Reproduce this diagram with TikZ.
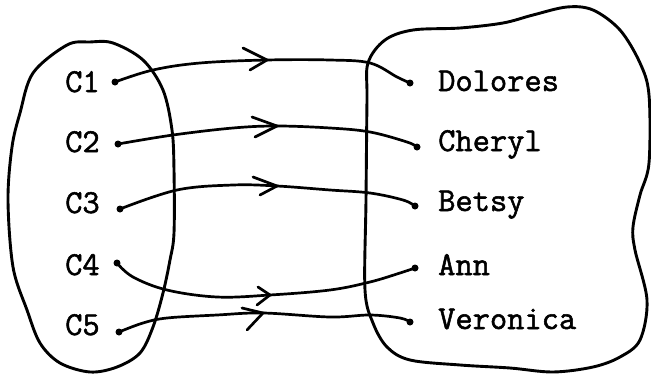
\documentclass[tikz,border=0pt]{standalone}
\usepackage{fontspec}
\setmonofont{Latin Modern Mono}[FakeBold=1.6]
\usetikzlibrary{calc}
\tikzset{
  blob/.style={line width=2.9pt, line join=round},
  link/.style={line width=2.7pt, line cap=round},
  chev/.style={line width=2.7pt, line cap=round, line join=miter},
  lbl/.style={anchor=base west, inner sep=0pt, font=\ttfamily\fontsize{33.5}{33.5}\selectfont},
  dotc/.style={circle, fill=black, inner sep=0pt, minimum size=7pt}
}
\begin{document}
\begin{tikzpicture}[x=1pt,y=-1pt]
\useasboundingbox (0,0) rectangle (651,375);
% left set
\draw[blob] plot[smooth cycle, tension=0.55] coordinates {
 (67,45) (90,42) (113,43) (143,60) (163,90) (172,130) (174,170) (174,233) (170,260)
 (163,293) (153,327) (140,353) (117,367) (90,372) (60,363) (40,343) (27,310)
 (13,267) (8,200) (12,147) (20,113) (33,73)};
% right set
\draw[blob] plot[smooth cycle, tension=0.55] coordinates {
 (368,63) (385,40) (413,30) (460,28) (503,23) (533,15) (567,7) (593,10) (620,30)
 (640,63) (649,95) (649,163) (640,195) (633,227) (635,250) (647,300) (640,340)
 (620,357) (593,367) (553,372) (510,368) (460,365) (410,360) (387,347) (373,323)
 (365,290) (366,200) (367,100)};
% labels
\node[lbl] (l1) at (65,92) {C1};
\node[lbl] (l2) at (65,152) {C2};
\node[lbl] (l3) at (65,213) {C3};
\node[lbl] (l4) at (65,275) {C4};
\node[lbl] (l5) at (65,335) {C5};
\node[lbl] (r1) at (438,91) {Dolores};
\node[lbl] (r2) at (438,151) {Cheryl};
\node[lbl] (r3) at (438,211) {Betsy};
\node[lbl] (r4) at (438,275) {Ann};
\node[lbl] (r5) at (438,329) {Veronica};
% dots
\node[dotc] (a1) at (115,82) {};
\node[dotc] (a2) at (118,144) {};
\node[dotc] (a3) at (120,209) {};
\node[dotc] (a4) at (117,263) {};
\node[dotc] (a5) at (119,332) {};
\node[dotc] (b1) at (410,83) {};
\node[dotc] (b2) at (417,147) {};
\node[dotc] (b3) at (415,206) {};
\node[dotc] (b4) at (415,268) {};
\node[dotc] (b5) at (410,322) {};
% arrow tips
\coordinate (t1) at (267,60);
\coordinate (t2) at (277,126);
\coordinate (t3) at (277,186);
\coordinate (t4) at (270,295);
\coordinate (t5) at (263,313);
% links
\draw[link] plot[smooth, tension=0.6] coordinates {(a1.center) (153,70) (200,63) (t1) (330,60) (370,63) (397,77) (b1.center)};
\draw[link] plot[smooth, tension=0.6] coordinates {(a2.center) (173,135) (233,128) (t2) (330,128) (370,132) (407,142) (b2.center)};
\draw[link] plot[smooth, tension=0.6] coordinates {(a3.center) (177,190) (233,185) (t3) (330,190) (370,193) (403,200) (b3.center)};
\draw[link] plot[smooth, tension=0.6] coordinates {(a4.center) (133,277) (167,290) (217,297) (t4) (330,290) (370,282) (400,273) (b4.center)};
\draw[link] plot[smooth, tension=0.6] coordinates {(a5.center) (143,323) (167,318) (217,315) (t5) (330,317) (370,315) (400,318) (b5.center)};
% chevrons
\draw[chev] ($(t1)+(-24,-12)$) -- (t1) -- ($(t1)+(-17,10)$);
\draw[chev] ($(t2)+(-25,-9)$) -- (t2) -- ($(t2)+(-22,11)$);
\draw[chev] ($(t3)+(-24,-9)$) -- (t3) -- ($(t3)+(-17,9)$);
\draw[chev] ($(t4)+(-12,-8)$) -- (t4) -- ($(t4)+(-13,10)$);
\draw[chev] ($(t5)+(-21,-5)$) -- (t5) -- ($(t5)+(-16,17)$);
\end{tikzpicture}
\end{document}
